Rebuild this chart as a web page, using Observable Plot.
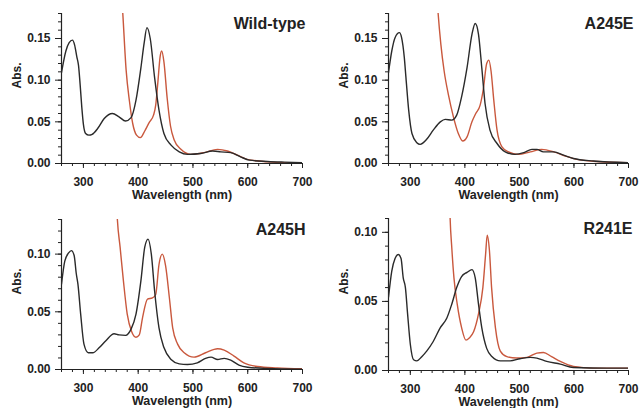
<!DOCTYPE html>
<html><head><meta charset="utf-8">
<script src="https://cdn.jsdelivr.net/npm/d3@7"></script>
<script src="https://cdn.jsdelivr.net/npm/@observablehq/plot@0.6"></script>
<style>
body{margin:0;background:#fff;}
#grid{display:grid;grid-template-columns:320px 320px;grid-template-rows:204px 204px;width:640px;height:408px;}
#grid svg{display:block;}
</style></head><body><div id="grid"></div>
<script>
// Panel titles and axis ticks
const panelTitles = ["Wild-type", "A245E", "A245H", "R241E"];
const wavelengthTicks = [300, 400, 500, 600, 700];
const wavelengthDomain = [260, 700];
const absMax = [0.18, 0.18, 0.13, 0.11];
const absTicks = [[0, 0.05, 0.10, 0.15], [0, 0.05, 0.10, 0.15], [0, 0.05, 0.10], [0, 0.05, 0.10]];

// Spectra: [wavelength nm, absorbance] — dark = black trace, red = red trace
const wildTypeDark = [[260,0.109],[268,0.135],[274,0.145],[280,0.148],[284,0.142],[288,0.128],[291,0.118],[294,0.095],[297,0.068],[300,0.047],[304,0.036],[310,0.034],[316,0.035],[326,0.042],[338,0.054],[353,0.060],[365,0.056],[377,0.051],[387,0.055],[396,0.076],[405,0.115],[411,0.145],[416,0.163],[422,0.150],[430,0.103],[438,0.064],[447,0.036],[460,0.022],[475,0.014],[490,0.011],[514,0.012],[536,0.015],[551,0.014],[569,0.013],[587,0.008],[603,0.004],[636,0.0024],[667,0.0016],[700,0.001]];
const wildTypeRed = [[366,0.24],[372,0.179],[378,0.112],[384,0.075],[390,0.048],[397,0.034],[404,0.031],[412,0.039],[420,0.049],[428,0.058],[432,0.070],[436,0.098],[440,0.128],[443,0.135],[447,0.122],[453,0.078],[459,0.045],[466,0.028],[478,0.017],[496,0.011],[520,0.013],[545,0.017],[563,0.015],[581,0.010],[599,0.005],[636,0.002],[700,0.0005]];

const a245eDark = [[260,0.109],[266,0.135],[272,0.151],[280,0.157],[284,0.151],[289,0.127],[292,0.103],[297,0.064],[303,0.036],[312,0.025],[318,0.023],[330,0.029],[342,0.040],[355,0.050],[364,0.053],[376,0.052],[385,0.058],[394,0.080],[404,0.115],[413,0.155],[419,0.168],[425,0.155],[431,0.115],[437,0.072],[446,0.040],[459,0.024],[474,0.014],[492,0.011],[508,0.013],[523,0.017],[532,0.017],[544,0.014],[563,0.014],[581,0.010],[599,0.006],[636,0.003],[700,0.001]];
const a245eRed = [[348,0.21],[351,0.180],[356,0.143],[362,0.111],[370,0.082],[379,0.056],[388,0.036],[396,0.027],[404,0.032],[413,0.050],[420,0.060],[428,0.070],[434,0.090],[440,0.120],[444,0.124],[448,0.111],[453,0.076],[459,0.040],[468,0.020],[480,0.014],[498,0.011],[520,0.014],[541,0.017],[563,0.014],[584,0.009],[605,0.005],[642,0.0024],[700,0.001]];

const a245hDark = [[260,0.074],[266,0.094],[273,0.101],[278,0.103],[283,0.099],[287,0.083],[290,0.074],[295,0.048],[301,0.022],[309,0.0145],[317,0.0145],[329,0.019],[341,0.025],[356,0.031],[365,0.030],[377,0.0296],[387,0.035],[396,0.048],[405,0.077],[412,0.106],[418,0.113],[424,0.100],[430,0.068],[438,0.036],[447,0.019],[460,0.0087],[475,0.0049],[490,0.0043],[508,0.0058],[523,0.0096],[533,0.0107],[545,0.0087],[557,0.0096],[569,0.0081],[584,0.0038],[600,0.002],[636,0.0009],[700,0.0003]];
const a245hRed = [[359,0.16],[362,0.130],[367,0.106],[373,0.077],[380,0.048],[388,0.033],[396,0.028],[402,0.030],[408,0.045],[417,0.061],[426,0.062],[432,0.065],[438,0.091],[444,0.100],[450,0.090],[457,0.062],[463,0.036],[472,0.022],[484,0.0145],[502,0.0107],[523,0.0145],[545,0.018],[557,0.0168],[575,0.0116],[593,0.0058],[618,0.0026],[654,0.0014],[700,0.0006]];

const r241eDark = [[260,0.053],[266,0.072],[272,0.081],[278,0.084],[283,0.081],[287,0.067],[291,0.060],[295,0.041],[300,0.019],[306,0.0078],[312,0.007],[321,0.010],[330,0.014],[342,0.021],[355,0.031],[367,0.038],[376,0.048],[385,0.060],[394,0.068],[404,0.071],[413,0.073],[419,0.067],[425,0.048],[431,0.031],[440,0.016],[450,0.010],[465,0.007],[483,0.007],[501,0.0085],[520,0.0095],[532,0.009],[550,0.0066],[575,0.0046],[599,0.0022],[660,0.0017],[700,0.0017]];
const r241eRed = [[371,0.14],[373,0.110],[376,0.089],[380,0.067],[386,0.048],[394,0.031],[402,0.022],[408,0.0235],[416,0.028],[425,0.041],[433,0.060],[438,0.084],[441,0.098],[445,0.087],[449,0.060],[456,0.031],[465,0.014],[477,0.010],[495,0.009],[514,0.0095],[532,0.0126],[544,0.013],[559,0.010],[575,0.0066],[599,0.003],[636,0.0017],[700,0.0017]];

const darkSeries = [wildTypeDark, a245eDark, a245hDark, r241eDark];
const redSeries = [wildTypeRed, a245eRed, a245hRed, r241eRed];
const margins = [
  {l: 61, r: 18, t: 13, b: 41, tdx: 3},
  {l: 68, r: 12, t: 13, b: 41, tdx: 5},
  {l: 61, r: 18, t: 15, b: 39, tdx: 3},
  {l: 68, r: 12, t: 14, b: 38, tdx: 4}
];

const ink = "#222";
const font = "'Liberation Sans', Arial, Helvetica, sans-serif";

function panel(i) {
  const m = margins[i];
  const ymax = absMax[i];
  return Plot.plot({
    width: 320, height: 204,
    marginLeft: m.l, marginRight: m.r, marginTop: m.t, marginBottom: m.b,
    style: {fontFamily: font, background: "white", color: ink, overflow: "visible"},
    x: {domain: wavelengthDomain},
    y: {domain: [0, ymax]},
    marks: [
      Plot.axisX({ticks: d3.range(260, 701, 20), tickSize: 3, fill: "none", label: null, stroke: ink, strokeWidth: 1}),
      Plot.axisX({ticks: wavelengthTicks, tickSize: 5, tickPadding: 9, fontSize: 12, fontWeight: "bold", label: null, stroke: ink, fill: ink, strokeWidth: 1}),
      Plot.axisY({ticks: d3.range(0, ymax + 1e-9, 0.01), tickSize: 3, fill: "none", label: null, stroke: ink, strokeWidth: 1}),
      Plot.axisY({ticks: absTicks[i], tickSize: 6, tickPadding: 5, tickFormat: d3.format(".2f"), fontSize: 12, fontWeight: "bold", label: null, stroke: ink, fill: ink, strokeWidth: 1}),
      Plot.ruleX([wavelengthDomain[0]], {stroke: ink, strokeWidth: 1.2}),
      Plot.ruleY([0], {stroke: ink, strokeWidth: 1.2}),
      Plot.line(redSeries[i], {x: d => d[0], y: d => d[1], stroke: "#c9583d", strokeWidth: 1.4, curve: "monotone-x", clip: true}),
      Plot.line(darkSeries[i], {x: d => d[0], y: d => d[1], stroke: "#2a2a2a", strokeWidth: 1.4, curve: "monotone-x", clip: true}),
      Plot.text([panelTitles[i]], {frameAnchor: "top-right", textAnchor: "end", lineAnchor: "top", dx: m.tdx, dy: 4, fontSize: 16, fontWeight: "bold", fill: ink}),
      Plot.text(["Abs."], {frameAnchor: "left", rotate: -90, dx: -44.5, fontSize: 12, fontWeight: "bold", fill: ink}),
      Plot.text(["Wavelength (nm)"], {frameAnchor: "bottom", lineAnchor: "top", dy: 27, fontSize: 12.5, fontWeight: "bold", fill: ink})
    ]
  });
}

const grid = document.getElementById("grid");
for (let i = 0; i < 4; i++) grid.appendChild(panel(i));
</script>
</body></html>
